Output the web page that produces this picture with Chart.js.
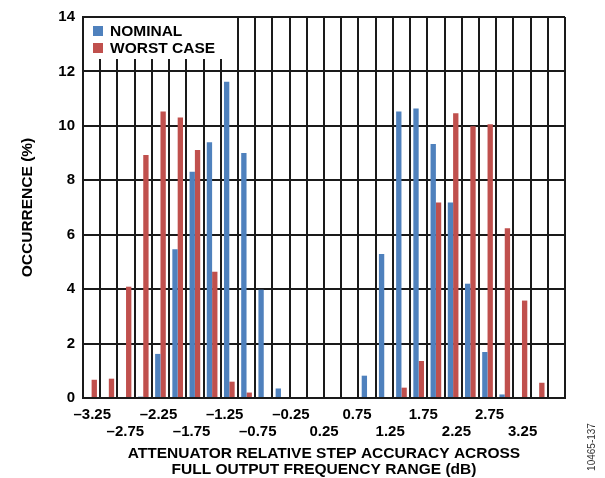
<!DOCTYPE html>
<html lang="en">
<head>
    <meta charset="UTF-8">
    <title>Attenuator Relative Step Accuracy</title>
    <script src="https://cdn.jsdelivr.net/npm/chart.js"></script>
    <style>
        body {
            margin: 0;
            padding: 0;
            background: #fff;
        }
    </style>
</head>
<body>
    <canvas id="histChart" width="605" height="478"></canvas>

    <script>
        // bins, 0.25 dB wide (last column is empty in the original)
        const bins = [
            '-3.25', '-3.00', '-2.75', '-2.50', '-2.25', '-2.00', '-1.75', '-1.50', '-1.25', '-1.00',
            '-0.75', '-0.50', '-0.25', '0.00', '0.25', '0.50', '0.75', '1.00', '1.25', '1.50',
            '1.75', '2.00', '2.25', '2.50', '2.75', '3.00', '3.25', ''
        ];

        // occurrence in %
        const nominal = [
            0, 0, 0, 0.05, 1.62, 5.47, 8.31, 9.40, 11.62, 9.00,
            3.98, 0.35, 0, 0, 0, 0, 0.82, 5.29, 10.53, 10.64,
            9.33, 7.18, 4.20, 1.69, 0.13, 0, 0, 0
        ];
        const worstCase = [
            0.67, 0.71, 4.09, 8.93, 10.53, 10.31, 9.11, 4.64, 0.60, 0.20,
            0, 0, 0, 0, 0, 0, 0, 0, 0.38, 1.36,
            7.18, 10.46, 9.99, 10.06, 6.24, 3.58, 0.56, 0
        ];

        // x tick labels (staggered, two rows), as printed under the plot
        const tickValues = [-3.25, -2.75, -2.25, -1.75, -1.25, -0.75, -0.25, 0.25, 0.75, 1.25, 1.75, 2.25, 2.75, 3.25];
        const tickLabels = ['\u20133.25', '\u20132.75', '\u20132.25', '\u20131.75', '\u20131.25', '\u20130.75', '\u20130.25',
                            '0.25', '0.75', '1.25', '1.75', '2.25', '2.75', '3.25'];

        const BLUE = '#4f81bd';
        const RED = '#c0504d';
        const FONT = 'Arial, "Liberation Sans", sans-serif';

        // legend box sitting inside the plot area, plus the figure number on the right
        const extras = {
            id: 'extras',
            afterDatasetsDraw(chart) {
                const ctx = chart.ctx;
                const area = chart.chartArea;
                ctx.save();
                ctx.fillStyle = '#fff';
                ctx.fillRect(area.left + 1, area.top + 1, 153, 41);

                ctx.font = 'bold 15.5px ' + FONT;
                ctx.textBaseline = 'middle';
                ctx.fillStyle = BLUE;
                ctx.fillRect(area.left + 10, area.top + 9, 10, 10);
                ctx.fillStyle = RED;
                ctx.fillRect(area.left + 10, area.top + 26, 10, 10);
                ctx.fillStyle = '#000';
                ctx.fillText('NOMINAL', area.left + 27, area.top + 15);
                ctx.fillText('WORST CASE', area.left + 27, area.top + 32);

                // figure id
                ctx.translate(592, 447);
                ctx.rotate(-Math.PI / 2);
                ctx.font = '10px ' + FONT;
                ctx.textAlign = 'center';
                ctx.fillStyle = '#333';
                ctx.fillText('10465-137', 0, 0);
                ctx.restore();
            }
        };

        const ctx = document.getElementById('histChart').getContext('2d');

        const histChart = new Chart(ctx, {
            type: 'bar',
            data: {
                labels: bins,
                datasets: [{
                    label: 'NOMINAL',
                    data: nominal,
                    backgroundColor: BLUE,
                    borderWidth: 0
                }, {
                    label: 'WORST CASE',
                    data: worstCase,
                    backgroundColor: RED,
                    borderWidth: 0
                }]
            },
            options: {
                responsive: false,
                animation: false,
                layout: {
                    padding: { left: 0, top: 13, right: 40, bottom: 0 }
                },
                datasets: {
                    bar: {
                        categoryPercentage: 0.62,
                        barPercentage: 1.0
                    }
                },
                plugins: {
                    legend: { display: false },
                    tooltip: { enabled: false }
                },
                scales: {
                    // bins: carries the bars and the vertical grid
                    x: {
                        weight: 0,
                        grid: {
                            color: '#1a1a1a',
                            lineWidth: 2,
                            drawTicks: false,
                            offset: true
                        },
                        border: { color: '#1a1a1a', width: 2 },
                        ticks: { display: false },
                        afterFit: function (scale) {
                            scale.height = 0;
                        }
                    },
                    // printed tick labels, spaced like the original figure
                    xLabels: {
                        type: 'linear',
                        position: 'bottom',
                        weight: 1,
                        offset: false,
                        min: -3.39,
                        max: 3.89,
                        grid: { display: false, offset: false },
                        border: { display: false },
                        afterBuildTicks: function (scale) {
                            scale.ticks = tickValues.map(v => ({ value: v }));
                        },
                        ticks: {
                            autoSkip: false,
                            maxRotation: 0,
                            minRotation: 0,
                            padding: 0,
                            color: '#000',
                            font: { family: FONT, size: 15, weight: 'bold', lineHeight: 1.15 },
                            callback: function (value, index) {
                                return index % 2 === 0 ? tickLabels[index] : ['', tickLabels[index]];
                            }
                        },
                        title: {
                            display: true,
                            text: ['ATTENUATOR RELATIVE STEP ACCURACY ACROSS', 'FULL OUTPUT FREQUENCY RANGE (dB)'],
                            color: '#000',
                            font: { family: FONT, size: 15.5, weight: 'bold', lineHeight: 1.05 },
                            padding: { top: 4, bottom: 0 }
                        },
                        afterFit: function (scale) {
                            scale.height = 80;
                        }
                    },
                    y: {
                        min: 0,
                        max: 14,
                        grid: {
                            color: '#1a1a1a',
                            lineWidth: 2,
                            drawTicks: false
                        },
                        border: { color: '#1a1a1a', width: 2 },
                        ticks: {
                            stepSize: 2,
                            padding: 8,
                            color: '#000',
                            font: { family: FONT, size: 15, weight: 'bold' }
                        },
                        title: {
                            display: true,
                            text: 'OCCURRENCE (%)',
                            color: '#000',
                            font: { family: FONT, size: 15.5, weight: 'bold' },
                            padding: { top: 18, bottom: 0 }
                        },
                        afterFit: function (scale) {
                            scale.width = 83;
                        }
                    }
                }
            },
            plugins: [extras]
        });
    </script>
</body>
</html>
